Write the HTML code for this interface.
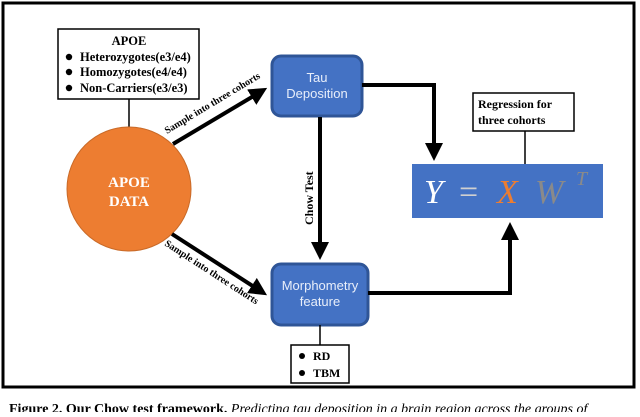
<!DOCTYPE html>
<html><head><style>
body{margin:0;width:640px;height:412px;overflow:hidden;background:#fff;font-family:"Liberation Serif",serif;}
</style></head><body>
<svg width="640" height="412" viewBox="0 0 640 412" xmlns="http://www.w3.org/2000/svg">
<defs>
<marker id="ah" markerWidth="4.5" markerHeight="4.5" refX="3" refY="2.25" orient="auto" markerUnits="strokeWidth">
<path d="M0,0 L4.5,2.25 L0,4.5 z" fill="#000"/></marker>
</defs>
<rect x="3" y="3" width="631" height="384" fill="#fff" stroke="#000" stroke-width="3"/>
<line x1="129" y1="99" x2="129" y2="128" stroke="#000" stroke-width="1.5"/>
<rect x="58" y="29" width="141" height="70" fill="#fff" stroke="#000" stroke-width="1.5"/>
<g font-family="Liberation Serif,serif" font-weight="bold" font-size="12.5" fill="#000">
<text x="129" y="45" text-anchor="middle">APOE</text>
<circle cx="69" cy="57" r="3.2"/><text x="80" y="61">Heterozygotes(e3/e4)</text>
<circle cx="69" cy="72" r="3.2"/><text x="80" y="76">Homozygotes(e4/e4)</text>
<circle cx="69" cy="88" r="3.2"/><text x="80" y="92">Non-Carriers(e3/e3)</text>
</g>
<circle cx="129" cy="189" r="62" fill="#ED7D31" stroke="#c96a28" stroke-width="1"/>
<text x="129" y="187" text-anchor="middle" font-weight="bold" font-size="15" fill="#fff">APOE</text>
<text x="129" y="206" text-anchor="middle" font-weight="bold" font-size="15" fill="#fff">DATA</text>
<line x1="173" y1="144" x2="262" y2="91" stroke="#000" stroke-width="4" marker-end="url(#ah)"/>
<text transform="translate(167,134) rotate(-31)" font-weight="bold" font-size="10">Sample into three cohorts</text>
<line x1="172" y1="234" x2="262" y2="292" stroke="#000" stroke-width="4" marker-end="url(#ah)"/>
<text transform="translate(164,245) rotate(33)" font-weight="bold" font-size="10">Sample into three cohorts</text>
<rect x="272" y="56" width="90" height="60" rx="9" fill="#4472C4" stroke="#2F5597" stroke-width="3"/>
<g font-family="Liberation Sans,sans-serif" font-size="13" fill="#e8eefa" text-anchor="middle">
<text x="317" y="82">Tau</text><text x="317" y="98">Deposition</text></g>
<polyline points="362,85 434,85 434,155" fill="none" stroke="#000" stroke-width="4" marker-end="url(#ah)"/>
<line x1="320" y1="117" x2="320" y2="254" stroke="#000" stroke-width="4" marker-end="url(#ah)"/>
<text transform="translate(313,225) rotate(-90)" font-weight="bold" font-size="12">Chow Test</text>
<rect x="272" y="264" width="96" height="61" rx="9" fill="#4472C4" stroke="#2F5597" stroke-width="3"/>
<g font-family="Liberation Sans,sans-serif" font-size="13" fill="#e8eefa" text-anchor="middle">
<text x="320" y="290">Morphometry</text><text x="320" y="306">feature</text></g>
<polyline points="368,293 510,293 510,228" fill="none" stroke="#000" stroke-width="4" marker-end="url(#ah)"/>
<line x1="320" y1="325" x2="320" y2="345" stroke="#000" stroke-width="1.5"/>
<rect x="291" y="345" width="58" height="38" fill="#fff" stroke="#000" stroke-width="1.5"/>
<g font-weight="bold" font-size="12"><circle cx="302" cy="356" r="3"/><text x="313" y="360">RD</text>
<circle cx="302" cy="373" r="3"/><text x="313" y="377">TBM</text></g>
<rect x="412" y="164" width="191" height="54" fill="#4472C4"/>
<g font-size="34" font-style="italic">
<text x="424" y="203" fill="#fff">Y</text>
<text x="459" y="203" fill="#d0d0d0" font-style="normal">=</text>
<text x="497" y="203" fill="#ED7D31">X</text>
<text x="535" y="203" fill="#8a8a8a">W</text>
<text x="576" y="185" font-size="20" fill="#8a8a8a">T</text></g>
<line x1="525" y1="131" x2="525" y2="164" stroke="#000" stroke-width="1.5"/>
<rect x="473" y="93" width="101" height="38" fill="#fff" stroke="#000" stroke-width="1.5"/>
<g font-weight="bold" font-size="12"><text x="478" y="108">Regression for</text><text x="478" y="124">three cohorts</text></g>
<text x="9" y="413" font-size="14"><tspan font-weight="bold">Figure 2. Our Chow test framework.</tspan><tspan font-style="italic"> Predicting tau deposition in a brain region across the groups of</tspan></text>
</svg>
</body></html>
